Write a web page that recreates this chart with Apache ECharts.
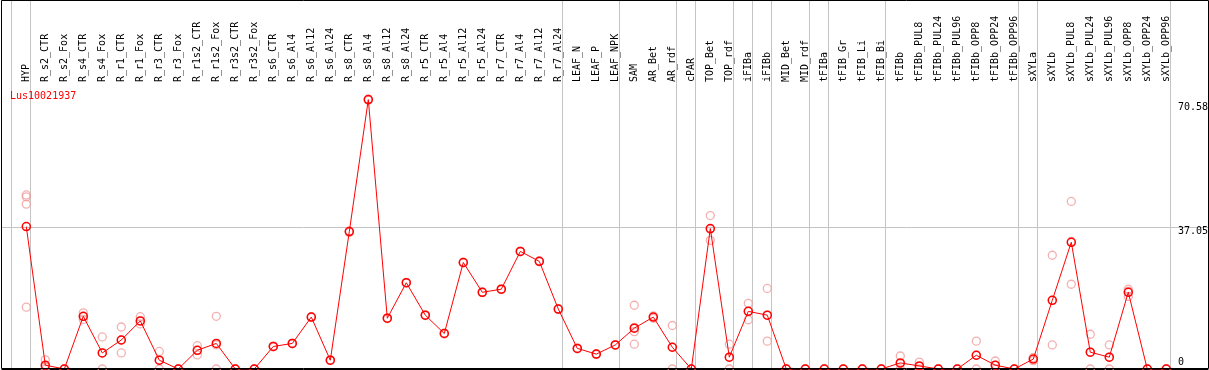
<!DOCTYPE html>
<html><head><meta charset="utf-8">
<script src="https://cdn.jsdelivr.net/npm/echarts@6/dist/echarts.min.js"></script>
<style>html,body{margin:0;padding:0;background:#fff}#c{width:1209px;height:370px}</style>
</head><body><div id="c"></div>
<script>
const seriesName = 'Lus10021937';
const categories = ['HYP','R_s2_CTR','R_s2_Fox','R_s4_CTR','R_s4_Fox','R_r1_CTR','R_r1_Fox','R_r3_CTR','R_r3_Fox','R_r1s2_CTR','R_r1s2_Fox','R_r3s2_CTR','R_r3s2_Fox','R_s6_CTR','R_s6_Al4','R_s6_Al12','R_s6_Al24','R_s8_CTR','R_s8_Al4','R_s8_Al12','R_s8_Al24','R_r5_CTR','R_r5_Al4','R_r5_Al12','R_r5_Al24','R_r7_CTR','R_r7_Al4','R_r7_Al12','R_r7_Al24','LEAF_N','LEAF_P','LEAF_NPK','SAM','AR_Bet','AR_rdf','cPAR','TOP_Bet','TOP_rdf','iFIBa','iFIBb','MID_Bet','MID_rdf','tFIBa','tFIB_Gr','tFIB_Li','tFIB_Bi','tFIBb','tFIBb_PUL8','tFIBb_PUL24','tFIBb_PUL96','tFIBb_OPP8','tFIBb_OPP24','tFIBb_OPP96','sXYLa','sXYLb','sXYLb_PUL8','sXYLb_PUL24','sXYLb_PUL96','sXYLb_OPP8','sXYLb_OPP24','sXYLb_OPP96'];
const means = [37.3,1.0,0,13.8,4.2,7.6,12.6,2.3,0,4.9,6.7,0,0,5.9,6.7,13.6,2.3,36.0,70.58,13.3,22.6,14.1,9.3,27.9,20.1,20.9,30.8,28.2,15.7,5.4,3.9,6.3,10.7,13.6,5.7,0,36.8,3.1,15.1,14.1,0,0,0,0,0,0,1.6,0.8,0,0,3.6,1.0,0,2.6,18.0,33.2,4.4,3.1,20.1,0,0];
const replicates = [
 [45.6,45.1,43.2,16.2],[2.4,0.6,0],[0,0],[14.7,13.7,13.0],[8.4,4.2,0],[11.0,7.6,4.2],[13.7,12.6,11.8],[4.6,2.3,0],[0,0],[6.1,4.9,3.7],
 [13.8,6.3,0],[0,0],[0,0],[6.0,5.8],[6.8,6.6],[13.7,13.5],[2.4,2.2],[36.2,35.8],[70.7,70.4],[13.4,13.2],
 [22.7,22.5],[14.2,14.0],[9.4,9.2],[28.0,27.8],[20.2,20.0],[21.0,20.8],[30.9,30.7],[28.3,28.1],[15.8,15.6],[5.5,5.3],
 [4.0,3.8],[6.4,6.2],[16.7,10.9,9.8,6.5],[13.9,13.3],[11.4,5.7,0],[0,0],[40.2,36.6,33.7],[6.5,3.1,0],[17.2,15.1,12.9],[21.1,14.1,7.3],
 [0,0],[0,0],[0,0],[0,0],[0,0],[0,0],[3.4,1.4,0],[1.8,0.6,0],[0,0],[0,0],
 [7.3,3.6,0],[2.1,1.0,0],[0,0],[3.0,2.2],[29.8,18.0,6.3],[43.9,33.4,22.2],[9.1,4.4,0],[6.3,3.1,0],[20.9,20.4,19.0],[0,0],
 [0,0]
];
// a separator line precedes the first category and follows each of these
const groupEnds = ['HYP','R_r7_Al24','LEAF_NPK','AR_rdf','cPAR','TOP_rdf','iFIBa','iFIBb','MID_rdf','tFIBa','tFIB_Bi','tFIBb_OPP96','sXYLa','sXYLb_OPP96'];
const yTicks = [0, 37.05, 70.58];
const refLine = 37.05;

// ---- layout / style ----
const FONT = 'DejaVu Sans Mono';
const XMIN = -1.279, XMAX = 62.195, YMAX = 74.4;
const SEP_OFF = 0.23;
const labelGlyphTop = {0: -10, 37.05: 1, 70.58: 4.5};

const meanData = means.map((v, i) => [i, v]);
const repData = [];
replicates.forEach((arr, i) => arr.forEach(v => repData.push([i, v])));
const sepPositions = [-1 + SEP_OFF].concat(groupEnds.map(n => categories.indexOf(n) + SEP_OFF));
const sepLine = {color: '#c4c4c4', width: 1, type: 'solid'};

const chart = echarts.init(document.getElementById('c'), null, {renderer: 'canvas'});
const option = {
  animation: false,
  backgroundColor: '#fff',
  title: {text: seriesName, left: 10, top: 91, padding: 0,
    textStyle: {color: '#ff0000', fontFamily: FONT, fontSize: 10, fontWeight: 'normal'}},
  grid: [
    {left: 2, right: 1, top: 0, height: 85},
    {left: 2, right: 1, top: 85, bottom: 1}
  ],
  xAxis: [
    {gridIndex: 0, type: 'value', min: XMIN, max: XMAX, show: false},
    {gridIndex: 1, type: 'value', min: XMIN, max: XMAX, position: 'top',
      axisLine: {show: true, lineStyle: {color: '#000', width: 1}},
      axisTick: {show: false}, splitLine: {show: false},
      axisLabel: {show: true, customValues: categories.map((c, i) => i),
        formatter: v => categories[Math.round(v)] || '', rotate: 90, margin: 3,
        fontFamily: FONT, fontSize: 10, color: '#000'}}
  ],
  yAxis: [
    {gridIndex: 0, type: 'value', min: 0, max: 1, show: false},
    {gridIndex: 1, type: 'value', min: 0, max: YMAX, show: false}
  ],
  series: [
    {type: 'scatter', xAxisIndex: 0, yAxisIndex: 0, data: [[0, -5]], symbolSize: 0, silent: true,
      markLine: {silent: true, symbol: 'none', label: {show: false}, lineStyle: sepLine,
        data: sepPositions.map(p => ({xAxis: p}))}},
    {type: 'scatter', xAxisIndex: 1, yAxisIndex: 1, data: repData, z: 2, silent: true,
      symbol: 'circle', symbolSize: 8,
      itemStyle: {color: 'rgba(0,0,0,0)', borderColor: '#f09c9c', borderWidth: 1.3}},
    {type: 'line', name: seriesName, xAxisIndex: 1, yAxisIndex: 1, data: meanData, z: 3,
      symbol: 'circle', symbolSize: 8, showAllSymbol: true,
      lineStyle: {color: '#ff0000', width: 1},
      itemStyle: {color: 'rgba(0,0,0,0)', borderColor: '#ff0000', borderWidth: 1.5},
      markLine: {silent: true, symbol: 'none', z: 1, label: {show: false}, lineStyle: sepLine,
        data: [{yAxis: refLine}].concat(sepPositions.map(p => ({xAxis: p})))}}
  ]
};
chart.setOption(option);

const gfx = [{type: 'rect', z: 100, silent: true,
  shape: {x: 1.5, y: 0.5, width: 1207, height: 368},
  style: {fill: 'none', stroke: '#000', lineWidth: 1}}];
yTicks.forEach(t => {
  const py = chart.convertToPixel({xAxisIndex: 1, yAxisIndex: 1}, [0, t])[1];
  gfx.push({type: 'text', z: 101, silent: true, x: 1178, y: py + labelGlyphTop[t] - 2,
    style: {text: String(t), fill: '#000', font: '10px "' + FONT + '"', textAlign: 'left', textVerticalAlign: 'top'}});
});
chart.setOption({graphic: gfx});
</script></body></html>
